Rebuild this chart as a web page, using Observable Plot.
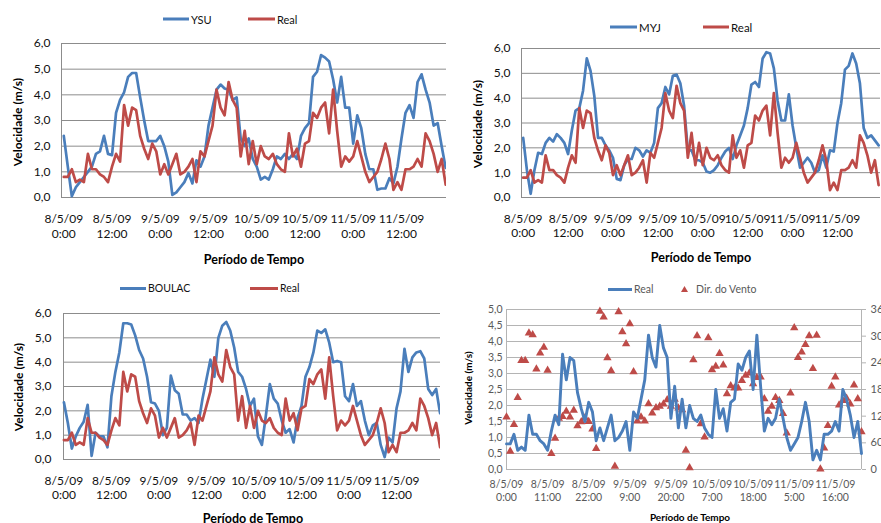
<!DOCTYPE html>
<html>
<head>
<meta charset="utf-8">
<script src="https://cdn.jsdelivr.net/npm/d3@7"></script>
<script src="https://cdn.jsdelivr.net/npm/@observablehq/plot@0.6"></script>
<style>
  body { margin: 0; background: #fff; }
  #root { position: relative; width: 881px; height: 523px; overflow: hidden; font-family: Lato, "Open Sans", sans-serif; background: #fff; }
  .panel { position: absolute; }
  .lg { position: absolute; display: flex; align-items: center; white-space: nowrap; transform: translateY(-50%); }
  .sw { display: inline-block; height: 3px; margin-right: 2px; }
  .ttl { position: absolute; font-weight: bold; white-space: nowrap; }
</style>
</head>
<body>
<div id="root"></div>
<script>
// ---------------- data (hourly, 8/5/09 0:00 .. 11/5/09 23:00) ----------------
const real = [0.8,0.8,1.1,0.6,0.7,0.6,1.7,1.1,1.1,0.9, 0.8,0.6,1.2,1.7,1.4,3.6,2.8,3.5,3.4,2.4,
  1.9,1.5,2.1,1.8,0.9,1.3,0.9,1.3,1.7,0.9, 1.0,1.2,1.5,0.6,1.8,1.6,2.2,2.8,4.2,3.5,
  3.2,4.5,3.8,3.5,1.6,2.6,1.3,2.2,1.3,2.0, 1.6,1.5,1.7,1.3,1.1,1.0,2.5,1.6,1.9,1.2,
  2.1,2.2,3.3,3.1,3.5,3.7,2.5,4.2,2.6,1.2, 1.6,1.4,1.6,2.2,1.6,1.0,0.6,0.8,1.0,1.5,
  2.1,1.5,0.3,0.6,0.3,1.1,1.1,1.2,1.5,1.2, 2.5,2.2,1.7,1.0,1.5,0.5];
const ysu = [2.4,1.2,0.05,0.4,0.6,0.8,1.0,1.2,1.7,1.8, 2.4,1.7,1.65,3.3,3.8,4.1,4.7,4.85,4.85,3.9,
  3.0,2.2,2.2,2.2,2.4,2.0,1.4,0.1,0.2,0.4, 0.6,0.95,0.55,1.45,1.2,1.6,2.8,3.5,4.2,4.4,
  4.25,4.2,3.8,3.9,2.3,2.0,2.3,1.5,1.2,0.7, 0.8,0.7,1.1,1.6,1.5,1.7,1.5,1.7,1.5,2.4,
  2.7,2.9,4.7,4.9,5.55,5.45,5.3,4.6,3.7,4.7, 3.5,3.5,2.1,3.2,2.7,1.7,1.1,1.1,0.3,0.35,
  0.35,0.75,0.55,1.2,2.3,3.3,3.6,3.1,4.5,4.8, 4.2,3.7,2.8,2.9,2.0,1.15];
const myj = [2.4,1.1,0.15,1.1,1.8,1.75,2.2,2.4,2.25,2.55, 2.4,2.2,1.75,2.7,3.5,3.6,4.3,5.6,5.1,4.1,
  2.4,2.4,2.1,1.9,1.6,0.75,0.7,1.3,1.55,1.55, 2.0,1.9,1.65,1.9,1.8,2.2,3.6,3.8,4.45,4.15,
  4.9,4.95,4.6,3.7,1.9,1.9,1.5,1.5,1.4,1.05, 1.0,1.1,1.3,1.6,1.85,2.0,1.55,2.1,2.5,2.9,
  3.6,4.55,4.65,4.45,5.6,5.85,5.8,5.2,3.9,3.1, 3.1,4.15,2.9,2.0,1.2,1.4,1.6,1.4,1.0,1.1,
  1.7,1.2,1.9,1.85,3.0,3.8,5.15,5.3,5.8,5.4, 4.6,2.8,2.4,2.5,2.3,2.1];
const boulac = [2.35,1.5,0.45,0.95,1.3,1.55,2.25,0.15,1.1,0.95, 0.95,0.5,2.6,3.6,4.4,5.6,5.6,5.55,5.1,4.5,
  4.15,3.4,2.35,2.3,2.0,1.0,1.3,3.45,2.85,2.7, 1.85,1.85,1.6,1.7,1.5,2.5,3.3,4.1,3.4,5.0,
  5.5,5.65,5.3,4.6,3.6,3.4,2.9,2.2,2.5,0.95, 0.6,1.8,3.1,2.5,2.3,1.6,1.1,1.25,0.7,1.7,
  2.2,3.4,3.8,4.4,5.3,5.2,5.35,4.8,4.0,4.05, 4.0,2.6,2.4,3.1,2.2,2.4,1.6,1.0,1.4,1.5,
  0.6,0.1,0.9,0.7,2.1,2.8,4.55,3.6,4.2,4.4, 4.45,4.15,2.9,2.65,2.9,1.9];
const dirVento = [118,41,101,162,245,245,307,303,226,262, 275,223,36,70,115,119,131,118,133,98,
  107,116,108,91,47,356,343,251,222,7, 355,310,283,328,220,109,118,109,148,127,
  139,142,147,157,142,158,138,134,43,4, 247,301,103,73,296,224,232,261,235,170,
  188,183,183,200,212,217,193,207,208,159, 131,142,162,155,126,82,172,319,252,264,
  281,301,227,302,1,48,99,187,208,145, 155,160,147,190,159,85];

// tick labels
const ticks12 = [0,12,24,36,48,60,72,84];
const dates12 = ["8/5/09","8/5/09","9/5/09","9/5/09","10/5/09","10/5/09","11/5/09","11/5/09"];
const times12 = ["0:00","12:00","0:00","12:00","0:00","12:00","0:00","12:00"];
const ticks11 = [0,11,22,33,44,55,66,77,88];
const dates11 = ["8/5/09","8/5/09","8/5/09","9/5/09","9/5/09","10/5/09","10/5/09","11/5/09","11/5/09"];
const times11 = ["0:00","11:00","22:00","9:00","20:00","7:00","18:00","5:00","16:00"];
const velTicks6 = [0,1,2,3,4,5,6];
const velTicks5 = [0,0.5,1,1.5,2,2.5,3,3.5,4,4.5,5];
const dirTicks = [0,60,120,180,240,300,360];

const BLUE = "#4a7ebb", RED = "#be4b48";
const rows = real.map((r, i) => ({h: i, real: r, ysu: ysu[i], myj: myj[i], boulac: boulac[i], dir: dirVento[i]}));
const fmt1 = v => v.toFixed(1).replace(".", ",");

const root = document.getElementById("root");

function addHTML(html) { root.insertAdjacentHTML("beforeend", html); }

function panel(o) {
  const tickMap = new Map(o.xt.map((t, i) => [t, o.dates[i] + "\n" + o.times[i]]));
  const marks = [
    Plot.ruleY(o.grid, {stroke: o.gridColor, strokeWidth: 1}),
    Plot.ruleX([o.xDomain[0]], {stroke: o.axisColor}),
    Plot.axisY({ticks: o.yTicks, tickFormat: fmt1, tickSize: 0, tickPadding: o.yPad, label: null, fontSize: o.fs, fill: o.textColor}),
    Plot.axisX({ticks: o.xt, tickFormat: t => tickMap.get(t), tickSize: 0, tickPadding: o.xPad, label: null, fontSize: o.fs, lineHeight: o.lh, fill: o.textColor}),
  ];
  if (o.dir) {
    const k = o.yDomain[1] / dirTicks[dirTicks.length - 1];
    marks.push(Plot.ruleX([o.xDomain[1]], {stroke: o.gridColor}));
    marks.push(Plot.axisY({anchor: "right", ticks: dirTicks.map(d => d * k), tickFormat: v => String(Math.round(v / k)), tickSize: 4, tickPadding: 5, stroke: o.gridColor, label: null, fontSize: o.fs + 0.5, fill: o.textColor, textAnchor: "start"}));
    marks.push(Plot.dot(rows, {x: "h", y: d => d.dir * k, symbol: "triangle", r: 3.1, fill: RED, stroke: null}));
  }
  for (const s of o.series) {
    marks.push(Plot.lineY(rows, {x: "h", y: s.key, stroke: s.color, strokeWidth: o.sw, strokeLinejoin: "round"}));
  }
  const chart = Plot.plot({
    width: o.width, height: o.height,
    marginLeft: o.mL, marginRight: o.mR, marginTop: o.mT, marginBottom: o.mB,
    style: {background: "transparent", fontFamily: "Lato, 'Open Sans', sans-serif", overflow: "hidden"},
    x: {domain: o.xDomain, axis: null},
    y: {domain: o.yDomain, axis: null},
    marks
  });
  chart.classList.add("panel");
  chart.style.left = o.left + "px";
  chart.style.top = o.top + "px";
  chart.style.maxWidth = "none";
  root.appendChild(chart);
}

// panel 1: YSU
panel({left: 0, top: 0, width: 446, height: 270, mL: 61, mR: 0, mT: 43, mB: 73,
  xDomain: [-0.57, 95.2], yDomain: [0, 6], yTicks: velTicks6, grid: velTicks6,
  xt: ticks12, dates: dates12, times: times12,
  series: [{key: "ysu", color: BLUE}, {key: "real", color: RED}],
  fs: 12, lh: 1.25, xPad: 15, yPad: 11, sw: 2.7, gridColor: "#8c8c8c", axisColor: "#8c8c8c", textColor: "#111"});
// panel 2: MYJ
panel({left: 440, top: 0, width: 441, height: 270, mL: 81, mR: 1, mT: 48, mB: 73,
  xDomain: [-0.45, 95.5], yDomain: [0, 6], yTicks: velTicks6, grid: velTicks6,
  xt: ticks12, dates: dates12, times: times12,
  series: [{key: "myj", color: BLUE}, {key: "real", color: RED}],
  fs: 12, lh: 1.2, xPad: 15, yPad: 11, sw: 2.7, gridColor: "#8c8c8c", axisColor: "#8c8c8c", textColor: "#111"});
// panel 3: BOULAC
panel({left: 0, top: 270, width: 440, height: 253, mL: 63, mR: 0, mT: 43, mB: 64,
  xDomain: [-0.1, 95.1], yDomain: [0, 6], yTicks: velTicks6, grid: velTicks6,
  xt: ticks12, dates: dates12, times: times12,
  series: [{key: "boulac", color: BLUE}, {key: "real", color: RED}],
  fs: 12, lh: 1.2, xPad: 15, yPad: 12, sw: 2.7, gridColor: "#8c8c8c", axisColor: "#8c8c8c", textColor: "#111"});
// panel 4: Real + wind direction
panel({left: 440, top: 270, width: 441, height: 253, mL: 66, mR: 20, mT: 39, mB: 54,
  xDomain: [0, 95], yDomain: [0, 5], yTicks: velTicks5, grid: velTicks5,
  xt: ticks11, dates: dates11, times: times11,
  series: [{key: "real", color: BLUE}], dir: true,
  fs: 10.5, lh: 1.2, xPad: 10, yPad: 4, sw: 2.9, gridColor: "#b4b4b4", axisColor: "#b4b4b4", textColor: "#595959"});

// ---------------- titles & legends ----------------
function ytitle(cx, cy, fs) {
  addHTML(`<div class="ttl" style="left:${cx}px;top:${cy}px;font-size:${fs}px;transform:translate(-50%,-50%) rotate(-90deg)">Velocidade (m/s)</div>`);
}
function xtitle(cx, cy, fs) {
  addHTML(`<div class="ttl" style="left:${cx}px;top:${cy}px;font-size:${fs}px;transform:translate(-50%,-50%)">Período de Tempo</div>`);
}
function legendLine(x, y, w, color, label, fs, tc) {
  addHTML(`<div class="lg" style="left:${x}px;top:${y}px;font-size:${fs}px;color:${tc}"><span class="sw" style="width:${w}px;background:${color}"></span>${label}</div>`);
}
function legendTri(x, y, color, label, fs, tc) {
  addHTML(`<div class="lg" style="left:${x}px;top:${y}px;font-size:${fs}px;color:${tc}"><svg width="9" height="8" style="margin-right:7px"><polygon points="4.5,1 8,7 1,7" fill="${color}"/></svg>${label}</div>`);
}

ytitle(17, 122, 12); xtitle(254, 259, 12.5);
legendLine(163, 19, 26, BLUE, "YSU", 11, "#111"); legendLine(248, 19, 27, RED, "Real", 11, "#111");

ytitle(477, 124, 12); xtitle(701, 257, 12.5);
legendLine(610, 27, 27, BLUE, "MYJ", 11.5, "#111"); legendLine(703, 27, 26, RED, "Real", 11.5, "#111");

ytitle(18, 387, 12); xtitle(253, 518, 12.5);
legendLine(120, 288, 26, BLUE, "BOULAC", 10.5, "#111"); legendLine(250, 288, 28, RED, "Real", 10.5, "#111");

ytitle(468, 388, 10); xtitle(690, 517, 10);
legendLine(608, 289, 24, BLUE, "Real", 10.5, "#595959"); legendTri(680, 289, RED, "Dir. do Vento", 10.5, "#595959");
</script>
</body>
</html>
